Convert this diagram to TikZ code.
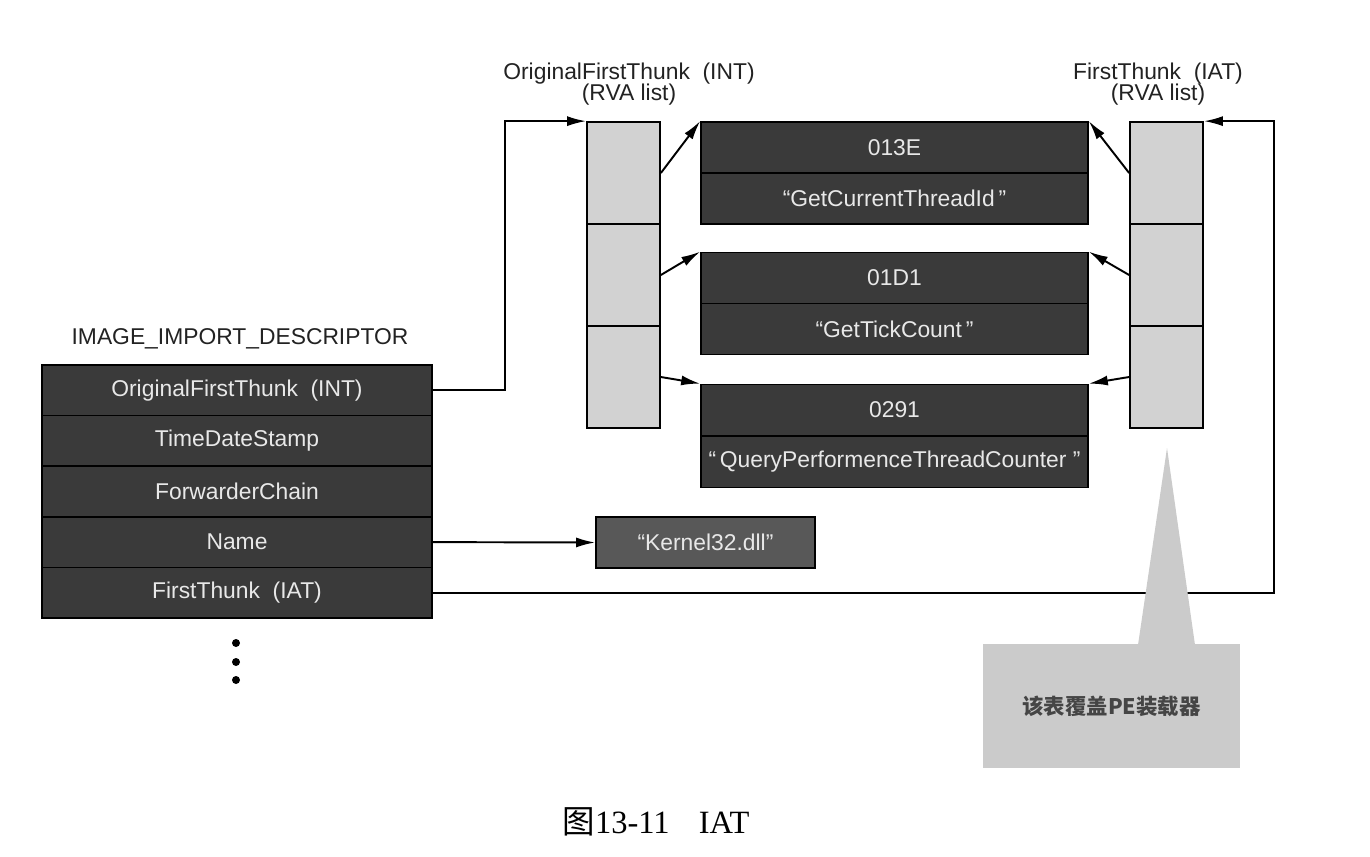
\documentclass[tikz,border=0pt]{standalone}
\usepackage{fontspec}
\setmainfont{Liberation Sans}
\newfontfamily\cjk{Noto Sans CJK SC}
\newfontfamily\capserif{Liberation Serif}
\usetikzlibrary{arrows.meta}
\definecolor{dk}{HTML}{3A3A3A}
\definecolor{kern}{HTML}{585858}
\definecolor{lt}{HTML}{D2D2D2}
\definecolor{callfill}{HTML}{CBCBCB}
\definecolor{txtlt}{HTML}{E8E8E8}
\definecolor{txtdk}{HTML}{222222}
\definecolor{notetxt}{HTML}{454545}
\newcommand{\myfs}{\fontsize{13}{12.4}\selectfont}
\tikzset{
  base/.style={draw=black, line width=1pt, inner sep=0pt, font=\myfs},
  darkcell/.style={base, fill=dk, text=txtlt},
  desc/.style={darkcell, minimum width=7.8cm, minimum height=1.012cm},
  func/.style={darkcell, minimum width=7.74cm, minimum height=1.02cm},
  slot/.style={base, fill=lt, minimum width=1.46cm, minimum height=2.04cm},
  dllbox/.style={base, fill=kern, text=txtlt, minimum width=4.38cm, minimum height=1.02cm},
  hdr/.style={font=\myfs, text=txtdk, align=center, inner sep=0pt},
  conn/.style={line width=1.1pt, draw=black},
  arr/.style={conn, -{Latex[length=0.38cm,width=0.2cm]}},
  notebox/.style={fill=callfill, draw=none, minimum width=5.14cm, minimum height=2.48cm, inner sep=0pt},
}
\begin{document}
\begin{tikzpicture}[x=0.02cm, y=-0.02cm]
\useasboundingbox (0,0) rectangle (1370,856);

% descriptor
\node[hdr] (title) at (240,339) {IMAGE\_IMPORT\_DESCRIPTOR};
\node[desc] (d1) at (237,390.3) {OriginalFirstThunk\ \ (INT)};
\node[desc] (d2) at (237,440.9) {TimeDateStamp};
\node[desc] (d3) at (237,491.5) {ForwarderChain};
\node[desc] (d4) at (237,542.1) {Name};
\node[desc] (d5) at (237,592.7) {FirstThunk\ \ (IAT)};
\fill (236,643) circle (4);
\fill (236,662) circle (4);
\fill (236,680) circle (4);

% headers
\node[hdr] (hint) at (629,84) {OriginalFirstThunk\ \ (INT)\\(RVA list)};
\node[hdr] (hiat) at (1158,84) {FirstThunk\ \ (IAT)\\(RVA list)};

% INT column
\node[slot] (i1) at (623.5,173) {};
\node[slot] (i2) at (623.5,275) {};
\node[slot] (i3) at (623.5,377) {};

% IAT column
\node[slot] (a1) at (1166.5,173) {};
\node[slot] (a2) at (1166.5,275) {};
\node[slot] (a3) at (1166.5,377) {};

% function boxes
\node[func] (f1a) at (894.5,147.5) {013E};
\node[func] (f1b) at (894.5,198.5) {\textquotedblleft GetCurrentThreadId\,\textquotedblright};
\node[func] (f2a) at (894.5,278) {01D1};
\node[func] (f2b) at (894.5,329) {\textquotedblleft GetTickCount\,\textquotedblright};
\node[func] (f3a) at (894.5,410) {0291};
\node[func] (f3b) at (894.5,462) {\textquotedblleft\,QueryPerformenceThreadCounter\ \textquotedblright};

% dll name
\node[dllbox] (dll) at (705.5,542.5) {\textquotedblleft Kernel32.dll\textquotedblright};

% connectors
\coordinate (j1) at (505,0);
\coordinate (j2) at (1274,0);
\draw[arr] (d1.east) -| (j1 |- i1.north west) -- (i1.north west);
\draw[arr] (d4.east) -- (dll.west);
\draw[arr] (d5.east) -| (j2 |- a1.north east) -- (a1.north east);

\draw[arr] (i1.east) -- (f1a.north west);
\draw[arr] (i2.east) -- (f2a.north west);
\draw[arr] (i3.east) -- (f3a.north west);
\draw[arr] (a1.west) -- (f1a.north east);
\draw[arr] (a2.west) -- (f2a.north east);
\draw[arr] (a3.west) -- (f3a.north east);

% callout
\node[notebox] (note) at (1111.5,706) {};
\fill[callfill] (1138,645) -- (1167,448) -- (1195,645) -- cycle;
\node[text=notetxt, inner sep=0pt] (notetext) at (note.center) {\cjk\bfseries\fontsize{12.2}{14}\selectfont 该表覆盖PE装载器};

% caption
\node[inner sep=0pt, text=black] (cap) at (656,822) {\fontsize{18.5}{20}\selectfont{\cjk 图}\capserif 13-11\hspace{0.9em}IAT};
\end{tikzpicture}
\end{document}
